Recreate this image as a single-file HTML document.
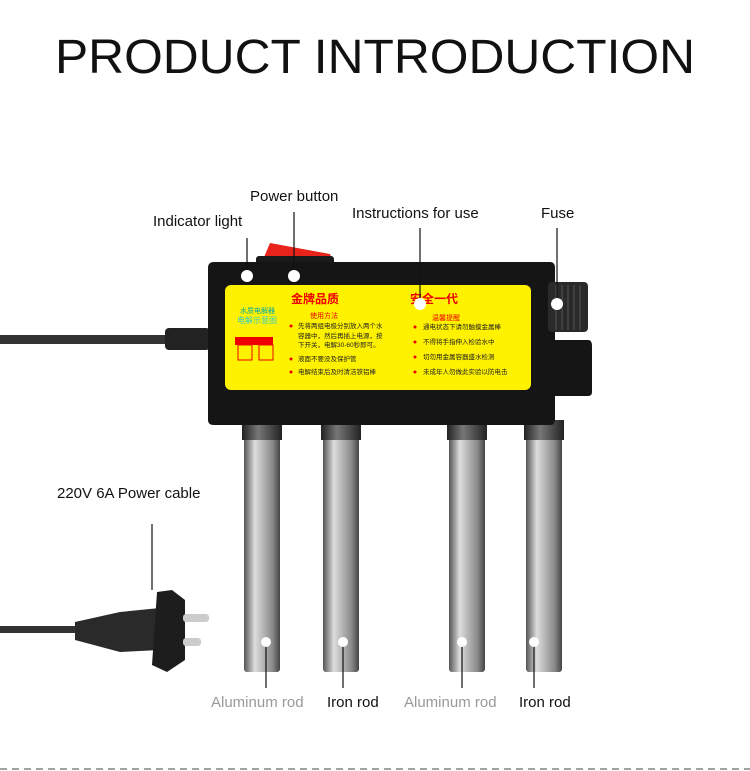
<!DOCTYPE html>
<html><head><meta charset="utf-8"><style>
html,body{margin:0;padding:0;background:#fff;}
svg{display:block;font-family:"Liberation Sans","Noto Sans CJK SC",sans-serif;}
</style></head><body>
<svg width="750" height="771" viewBox="0 0 750 771" xmlns="http://www.w3.org/2000/svg">
<defs>
<linearGradient id="rod" x1="0" x2="1" y1="0" y2="0">
<stop offset="0" stop-color="#555"/><stop offset="0.3" stop-color="#ddd"/><stop offset="0.5" stop-color="#bbb"/><stop offset="0.8" stop-color="#888"/><stop offset="1" stop-color="#444"/>
</linearGradient>
<linearGradient id="col" x1="0" x2="1"><stop offset="0" stop-color="#222"/><stop offset="0.4" stop-color="#777"/><stop offset="1" stop-color="#222"/></linearGradient>
</defs>
<text x="375" y="73" font-size="48" text-anchor="middle" textLength="640" lengthAdjust="spacingAndGlyphs" fill="#111">PRODUCT INTRODUCTION</text>

<rect x="0" y="335" width="170" height="9" fill="#333"/>
<rect x="165" y="328" width="45" height="22" rx="4" fill="#222"/>

<g>
<rect x="244" y="425" width="36" height="247" rx="3" fill="url(#rod)"/>
<rect x="323" y="425" width="36" height="247" rx="3" fill="url(#rod)"/>
<rect x="449" y="425" width="36" height="247" rx="3" fill="url(#rod)"/>
<rect x="526" y="425" width="36" height="247" rx="3" fill="url(#rod)"/>
<rect x="242" y="420" width="40" height="20" fill="url(#col)"/>
<rect x="321" y="420" width="40" height="20" fill="url(#col)"/>
<rect x="447" y="420" width="40" height="20" fill="url(#col)"/>
<rect x="524" y="420" width="40" height="20" fill="url(#col)"/>
</g>

<path d="M262 262 L270 243 L330 254 L333 262 Z" fill="#e8241a"/>
<rect x="256" y="256" width="78" height="10" rx="3" fill="#1a1a1a"/>

<path d="M214 262 H550 Q555 262 555 268 V340 H588 Q592 340 592 346 V392 Q592 396 588 396 H555 V420 Q555 425 550 425 H214 Q208 425 208 420 V268 Q208 262 214 262 Z" fill="#151515"/>
<rect x="548" y="282" width="40" height="50" rx="4" fill="#2a2a2a"/>
<g stroke="#555" stroke-width="1">
<line x1="556" y1="285" x2="556" y2="330"/><line x1="562" y1="285" x2="562" y2="330"/><line x1="568" y1="285" x2="568" y2="330"/><line x1="574" y1="285" x2="574" y2="330"/><line x1="580" y1="285" x2="580" y2="330"/>
</g>

<rect x="225" y="285" width="306" height="105" rx="6" fill="#fff200"/>
<text x="240" y="313" font-size="7" fill="#0aa">水质电解器</text>
<text x="237" y="323" font-size="8" fill="#3cc">电解示意图</text>
<rect x="235" y="337" width="38" height="8" fill="#e00"/>
<rect x="238" y="345" width="14" height="15" fill="none" stroke="#e00"/>
<rect x="259" y="345" width="14" height="15" fill="none" stroke="#e00"/>
<text x="291" y="303" font-size="12" font-weight="bold" fill="#e00">金牌品质</text>
<text x="410" y="303" font-size="12" font-weight="bold" fill="#e00">安全一代</text>
<text x="310" y="318" font-size="7" fill="#e00">使用方法</text>
<text x="432" y="320" font-size="7" fill="#e00">温馨提醒</text>
<g font-size="6.5" fill="#222">
<text x="298" y="328">先将两组电极分别放入两个水</text>
<text x="298" y="338">容器中，然后再插上电源，按</text>
<text x="298" y="347">下开关，电解30-60秒即可。</text>
<text x="298" y="361">液面不要没及保护管</text>
<text x="298" y="374">电解结束后及时清洁铁铝棒</text>
<text x="423" y="329">通电状态下请勿触摸金属棒</text>
<text x="423" y="344">不得将手指伸入检验水中</text>
<text x="423" y="359">切勿用金属容器盛水检测</text>
<text x="423" y="374">未成年人勿做此实验以防电击</text>
</g>
<g fill="#e00"><circle cx="291" cy="326" r="1.5"/><circle cx="291" cy="359" r="1.5"/><circle cx="291" cy="372" r="1.5"/><circle cx="415" cy="327" r="1.5"/><circle cx="415" cy="342" r="1.5"/><circle cx="415" cy="357" r="1.5"/><circle cx="415" cy="372" r="1.5"/></g>

<g stroke="#111" stroke-width="1.2">
<line x1="247" y1="238" x2="247" y2="276"/>
<line x1="294" y1="212" x2="294" y2="276"/>
<line x1="420" y1="228" x2="420" y2="302"/>
<line x1="557" y1="228" x2="557" y2="303"/>
<line x1="152" y1="524" x2="152" y2="590"/>
<line x1="266" y1="642" x2="266" y2="688"/>
<line x1="343" y1="642" x2="343" y2="688"/>
<line x1="462" y1="642" x2="462" y2="688"/>
<line x1="534" y1="642" x2="534" y2="688"/>
</g>
<g fill="#fff"><circle cx="247" cy="276" r="6"/><circle cx="294" cy="276" r="6"/><circle cx="420" cy="304" r="6"/><circle cx="557" cy="304" r="6"/>
<circle cx="266" cy="642" r="5"/><circle cx="343" cy="642" r="5"/><circle cx="462" cy="642" r="5"/><circle cx="534" cy="642" r="5"/></g>

<g font-size="15" fill="#111">
<text x="250" y="201">Power button</text>
<text x="153" y="226">Indicator light</text>
<text x="352" y="218">Instructions for use</text>
<text x="541" y="218">Fuse</text>
<text x="57" y="498">220V 6A Power cable</text>
<text x="211" y="707" fill="#999">Aluminum rod</text>
<text x="327" y="707">Iron rod</text>
<text x="404" y="707" fill="#999">Aluminum rod</text>
<text x="519" y="707">Iron rod</text>
</g>

<rect x="0" y="626" width="80" height="7" fill="#333"/>
<path d="M75 622 L120 612 L160 608 L160 650 L120 652 L75 640 Z" fill="#2a2a2a"/>
<path d="M157 592 L172 590 L185 600 L185 660 L167 672 L152 665 Z" fill="#1d1d1d"/>
<rect x="183" y="614" width="26" height="8" rx="3" fill="#ccc"/>
<rect x="183" y="638" width="18" height="8" rx="3" fill="#ccc"/>

<line x1="0" y1="769" x2="750" y2="769" stroke="#444" stroke-width="1" stroke-dasharray="7,5"/>
</svg>
</body></html>
